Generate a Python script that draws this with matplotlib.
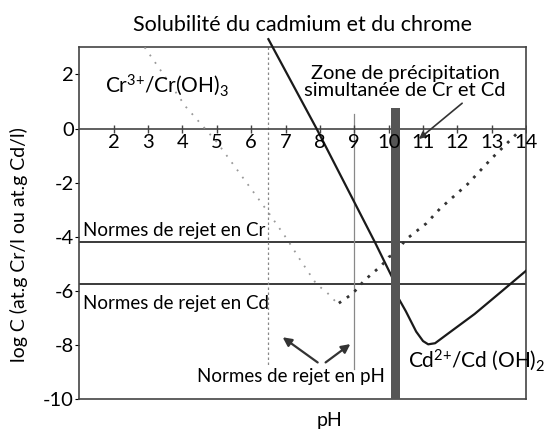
import numpy as np
import matplotlib
matplotlib.use('Agg')
import matplotlib.pyplot as plt

plt.rcParams['font.family'] = ['Lato', 'DejaVu Sans']
plt.rcParams['mathtext.default'] = 'regular'

# courbes (pH, log C)
ph_cd_acide = [6.5, 7.9, 9.6, 10.2]
logc_cd_acide = [3.3, 0.0, -4.2, -5.75]

ph_cd_base = [10.3, 10.5, 10.8, 11.0, 11.15, 11.35, 11.7, 12.5, 13.3, 14.0]
logc_cd_base = [-6.3, -6.75, -7.5, -7.85, -7.97, -7.93, -7.6, -6.85, -6.0, -5.25]

ph_cr_acide = [2.9, 4.1, 5.0, 6.5, 7.05, 7.4, 7.9, 8.2, 8.5]
logc_cr_acide = [3.0, 0.8, -0.5, -3.1, -4.1, -4.8, -5.75, -6.05, -6.45]

ph_cr_base = [8.55, 8.95, 9.3, 9.8, 10.0, 10.2, 10.5, 10.8, 11.1, 11.5, 11.9, 12.3, 13.0, 13.8]
logc_cr_base = [-6.45, -6.1, -5.6, -5.05, -4.75, -4.6, -4.1, -3.8, -3.5, -2.95, -2.5, -2.05, -1.1, -0.1]

norme_cr = -4.2
norme_cd = -5.75
normes_ph = [6.5, 9.0]
zone_ph = 10.2
zone_haut = 0.75

xticks = [2, 3, 4, 5, 6, 7, 8, 9, 10, 11, 12, 13, 14]
yticks = [2, 0, -2, -4, -6, -8, -10]

fig = plt.figure(figsize=(5.55, 4.34), dpi=100)
ax = fig.add_axes([0.143, 0.080, 0.805, 0.811])
ax.set_xlim(1.0, 14.0)
ax.set_ylim(-10, 3)

# lignes de normes
ax.axhline(norme_cr, color='#3a3a3a', lw=1.4, zorder=2)
ax.axhline(norme_cd, color='#3a3a3a', lw=1.4, zorder=2)
ax.plot([normes_ph[0], normes_ph[0]], [3, -8.8], color='#888888', lw=0.9, ls=(0, (2, 2)), zorder=2)
ax.plot([normes_ph[1], normes_ph[1]], [0.55, -8.9], color='#888888', lw=0.9, zorder=2)

# courbes
ax.plot(ph_cd_acide, logc_cd_acide, color='#1a1a1a', lw=1.6, zorder=3, clip_on=False)
ax.plot(ph_cd_base, logc_cd_base, color='#1a1a1a', lw=1.6, zorder=3)
ax.plot(ph_cr_acide, logc_cr_acide, color='#999999', lw=1.3, ls=(0, (1, 4)), zorder=3)
ax.plot(ph_cr_base, logc_cr_base, color='#333333', lw=2.0, ls=(0, (1, 2.5)), zorder=3)

# zone de precipitation simultanee
ax.bar(zone_ph, zone_haut + 10, bottom=-10, width=0.27, color='#555555', zorder=4)

# axe pH a log C = 0
ax.axhline(0, color='#444444', lw=1.2, zorder=2)
ax.plot(xticks, [0] * len(xticks), ls='none', marker='|', ms=6, color='#444444', zorder=2)
for t in xticks:
    ax.text(t, -0.22, str(t), ha='center', va='top', fontsize=14.5, zorder=5)

ax.set_xticks([])
ax.set_yticks(yticks)
ax.set_yticklabels([str(t) for t in yticks], fontsize=14.5)
ax.tick_params(axis='y', length=3, pad=1)
for s in ax.spines.values():
    s.set_color('#444444')
    s.set_linewidth(1.2)

# textes
ax.text(1.75, 1.6, r'Cr$^{3{+}}$/Cr(OH)$_3$', fontsize=15, va='center')
ax.text(10.55, -8.55, r'Cd$^{2{+}}$/Cd (OH)$_2$', fontsize=15, va='center', clip_on=False)
ax.text(1.12, -3.75, 'Normes de rejet en Cr', fontsize=13.5, va='center')
ax.text(1.12, -6.45, 'Normes de rejet en Cd', fontsize=13.5, va='center')
ax.text(7.15, -9.15, 'Normes de rejet en pH', fontsize=13.5, ha='center', va='center', zorder=1)
ax.text(10.48, 1.72, 'Zone de précipitation\nsimultanée de Cr et Cd', fontsize=14.5, ha='center', va='center', linespacing=0.95)

arrow = dict(arrowstyle='-|>', color='#333333', lw=1.6, mutation_scale=13)
ax.annotate('', xy=(6.85, -7.65), xytext=(8.0, -8.7), arrowprops=arrow)
ax.annotate('', xy=(8.95, -7.9), xytext=(8.1, -8.7), arrowprops=arrow)
ax.annotate('', xy=(10.82, -0.45), xytext=(12.2, 1.0), arrowprops=dict(arrowstyle='-|>', color='#333333', lw=1.2, mutation_scale=10))

ax.set_ylabel('log C (at.g Cr/l ou at.g Cd/l)', fontsize=14)
ax.yaxis.set_label_coords(-0.115, 0.44)
ax.set_xlabel('pH', fontsize=14)
ax.xaxis.set_label_coords(0.56, -0.035)
fig.suptitle('Solubilité du cadmium et du chrome', fontsize=15.5, x=0.545, y=0.965)

fig.savefig('out.png', dpi=100)
